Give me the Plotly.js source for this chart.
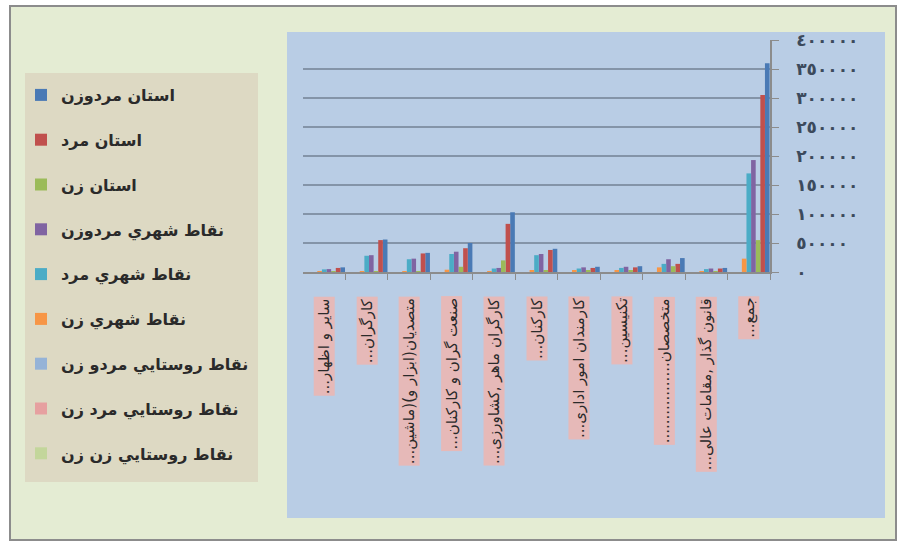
<!DOCTYPE html>
<html>
<head>
<meta charset="utf-8">
<script src="https://cdn.plot.ly/plotly-3.0.1.min.js"></script>
<style>
  html, body { margin: 0; padding: 0; background: #ffffff; }
  #chart { width: 903px; height: 546px; }
</style>
</head>
<body>
<div id="chart"></div>
<script>
// Categories in the chart's own order (the category axis runs right-to-left)
const categories = [
  "جمع",
  "قانون گذار ,مقامات عالی",
  "متخصصان..............",
  "تکنیسین",
  "کارمندان امور اداری",
  "کارکنان",
  "کارگران ماهر ,کشاورزی",
  "صنعت گران و کارکنان",
  "متصدیان(ابزار و)(ماشین",
  "کارگران",
  "سایر و اظهار"
];

const seriesNames = [
  "استان مردوزن",
  "استان مرد",
  "استان زن",
  "نقاط شهري مردوزن",
  "نقاط شهري مرد",
  "نقاط شهري زن",
  "نقاط روستايي مردو زن",
  "نقاط روستايي مرد زن",
  "نقاط روستايي زن زن"
];

const provinceTotal = [360000, 7000, 24000, 10000, 9000, 40000, 103000, 50000, 33000, 56000, 8000];
const provinceMen   = [305000, 6000, 14000, 8000, 7000, 38000, 83000, 41000, 32000, 55000, 7000];
const provinceWomen = [55000, 1000, 10000, 2000, 2000, 2000, 20000, 9000, 1000, 1000, 1000];
const urbanTotal    = [193000, 6000, 22000, 9000, 8000, 31000, 7000, 35000, 23000, 29000, 5000];
const urbanMen      = [170000, 5000, 14000, 7000, 6000, 29000, 6000, 31000, 22000, 28000, 4500];
const urbanWomen    = [23000, 1000, 8000, 2000, 2000, 2000, 1000, 4000, 1000, 1000, 500];
const ruralTotal    = [0, 0, 0, 0, 0, 0, 0, 0, 0, 0, 0];
const ruralMen      = [0, 0, 0, 0, 0, 0, 0, 0, 0, 0, 0];
const ruralWomen    = [0, 0, 0, 0, 0, 0, 0, 0, 0, 0, 0];

const yTickValues = [0, 50000, 100000, 150000, 200000, 250000, 300000, 350000, 400000];
const yTickLabels = ["٠", "٥٠٠٠٠", "١٠٠٠٠٠", "١٥٠٠٠٠", "٢٠٠٠٠٠", "٢٥٠٠٠٠", "٣٠٠٠٠٠", "٣٥٠٠٠٠", "٤٠٠٠٠٠"];

const seriesValues = [provinceTotal, provinceMen, provinceWomen, urbanTotal, urbanMen, urbanWomen, ruralTotal, ruralMen, ruralWomen];
const colors = ["#4a7ab5", "#c0504d", "#9bbb59", "#8064a2", "#4bacc6", "#f79646", "#95b3d7", "#e6a0a0", "#c3d69b"];

// layout geometry helpers (pixel -> paper)
const L = 303, R = 133, T = 40, B = 274;
const PW = 903 - L - R, PH = 546 - T - B;
const px = x => (x - L) / PW;
const py = y => (546 - B - y) / PH;

const traces = seriesValues.map((vals, i) => ({
  type: "bar",
  name: seriesNames[i],
  x: categories,
  y: vals,
  legendgroup: "g" + i,
  marker: { color: colors[i], line: { width: 0 } },
  hoverinfo: "x+y+name"
}));

const annotations = categories.map(c => ({
  x: c, xref: "x",
  y: py(296), yref: "paper",
  xanchor: "center", yanchor: "top",
  text: c + "...\u200F",
  textangle: -90,
  showarrow: false,
  bgcolor: "#e6b9b8",
  borderpad: 1,
  font: { family: "DejaVu Sans, sans-serif", size: 15, color: "#2a2a2a" }
}));

const layout = {
  width: 903, height: 546,
  margin: { l: L, r: R, t: T, b: B, pad: 0 },
  paper_bgcolor: "#ffffff",
  plot_bgcolor: "rgba(0,0,0,0)",
  barmode: "group",
  bargap: 0.02,
  bargroupgap: 0,
  showlegend: true,
  legend: {
    x: px(21), y: py(78), xanchor: "left", yanchor: "top",
    xref: "paper", yref: "paper",
    maxheight: 440,
    bgcolor: "rgba(0,0,0,0)",
    tracegroupgap: 21,
    traceorder: "grouped",
    font: { family: "DejaVu Sans, sans-serif", size: 16, weight: "bold", color: "#2a2a2a" }
  },
  xaxis: {
    type: "category",
    categoryorder: "array",
    categoryarray: categories,
    autorange: "reversed",
    showticklabels: false,
    ticks: "outside", ticklen: 6, tickcolor: "#8c8c8c",
    tickson: "boundaries",
    showline: true, linecolor: "#8c8c8c", linewidth: 1.5,
    showgrid: false, zeroline: false
  },
  yaxis: {
    side: "right",
    range: [0, 400000],
    tickvals: yTickValues,
    ticktext: yTickLabels,
    ticks: "outside", ticklen: 7, tickcolor: "#8c8c8c",
    ticklabelstandoff: 14,
    showline: true, linecolor: "#8c8c8c", linewidth: 1.5,
    showgrid: true, gridcolor: "#8494a8", gridwidth: 2,
    zeroline: false,
    tickfont: { family: "DejaVu Sans, sans-serif", size: 17, weight: "bold", color: "#3c4a5c" }
  },
  shapes: [
    { type: "rect", xref: "paper", yref: "paper", layer: "below",
      x0: px(10), x1: px(896), y0: py(540), y1: py(6),
      fillcolor: "#e4ecd3", line: { color: "#8c8c8c", width: 2 } },
    { type: "rect", xref: "paper", yref: "paper", layer: "below",
      x0: px(287), x1: px(885), y0: py(518), y1: py(32),
      fillcolor: "#b9cde5", line: { width: 0 } },
    { type: "rect", xref: "paper", yref: "paper", layer: "below",
      x0: px(25), x1: px(258), y0: py(482), y1: py(73),
      fillcolor: "#ddd9c3", line: { width: 0 } }
  ],
  annotations: annotations
};

Plotly.newPlot("chart", traces, layout, { displayModeBar: false, staticPlot: false });
</script>
</body>
</html>
